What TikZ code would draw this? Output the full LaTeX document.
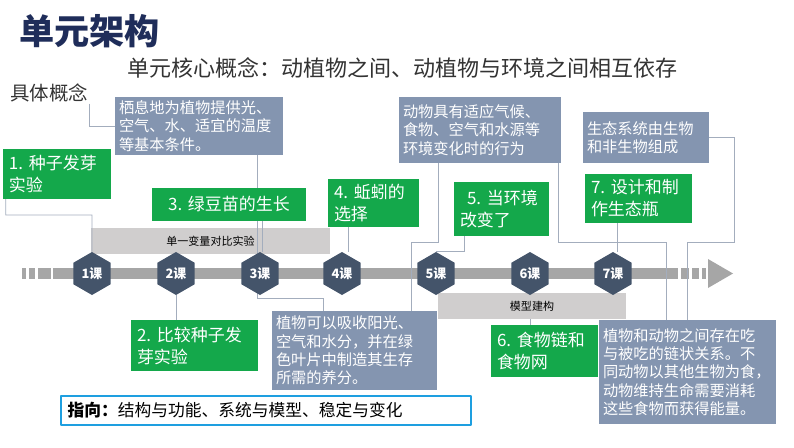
\documentclass[tikz,border=0pt]{standalone}
\usepackage{fontspec}
\setmainfont{Noto Sans CJK SC}
\usetikzlibrary{shapes.geometric}
\definecolor{navy}{HTML}{1F2D5A}
\definecolor{slate}{HTML}{8495B0}
\definecolor{leaf}{HTML}{14A84B}
\definecolor{hexblue}{HTML}{44546A}
\definecolor{tline}{HTML}{A6A6A6}
\definecolor{barfill}{HTML}{D0CECE}
\definecolor{linkgray}{HTML}{A3ADBD}
\definecolor{frame}{HTML}{1E9FE0}
\definecolor{ink}{HTML}{333333}
\pgfdeclarelayer{bg}
\pgfdeclarelayer{lk}
\pgfsetlayers{bg,lk,main}
\tikzset{
  link/.style={draw=linkgray, line width=0.7pt},
  sbox/.style 2 args={fill=slate, text=white, align=left, inner xsep=0.12cm, inner ysep=0pt,
    text width=(#1-8)*0.03cm, minimum height=#2*0.03cm,
    font=\fontsize{13}{15.7}\selectfont},
  gbox/.style 2 args={fill=leaf, text=white, align=left, inner xsep=0.18cm, inner ysep=0pt,
    text width=(#1-12)*0.03cm, minimum height=#2*0.03cm,
    font=\fontsize{14.5}{18.8}\selectfont},
  hexa/.style={regular polygon, regular polygon sides=6, shape border rotate=30,
    fill=hexblue, text=white, inner sep=0pt, minimum size=1.29cm,
    font=\bfseries\fontsize{11}{13}\selectfont},
  graybar/.style 2 args={fill=barfill, inner sep=0pt, minimum width=#1*0.03cm,
    minimum height=#2*0.03cm, font=\fontsize{9.4}{11}\selectfont}
}
\begin{document}
\begin{tikzpicture}[x=0.03cm, y=-0.03cm, line join=round, line cap=round]
\useasboundingbox (0,0) rectangle (794,447);
% headings
\node[anchor=west, inner sep=0pt, text=navy, font=\bfseries\fontsize{30}{36}\selectfont] (title) at (19,31) {单元架构};
\node[anchor=west, inner sep=0pt, text=ink, font=\fontsize{18.8}{22}\selectfont] (core) at (127,68) {单元核心概念：动植物之间、动植物与环境之间相互依存};
\node[anchor=west, inner sep=1pt, text=ink, font=\fontsize{16.6}{20}\selectfont] (spec) at (9,93) {具体概念};
% timeline and grey bands
\begin{pgfonlayer}{bg}
\fill[tline] (53,268) rectangle (678,279);
\foreach \a/\b in {22/26,29/35,38/51,681/689,692/699,702/706}
  \fill[tline] (\a,268) rectangle (\b,279);
\fill[tline] (708,259) -- (733,273.5) -- (708,288) -- cycle;
\node[graybar={239}{26}] (cmp) at (210.5,241) {单一变量对比实验};
\node[graybar={188}{26}] (model) at (532,306) {模型建构};
\end{pgfonlayer}
% lessons
\foreach \n/\x in {1/92,2/176,3/260,4/342,5/436,6/530,7/613}
  \node[hexa] (h\n) at (\x,273.5) {\n{}课};
% concepts
\node[sbox={168}{58}] (ba) at (199,126) {栖息地为植物提供光、\\空气、水、适宜的温度\\等基本条件。};
\node[sbox={162}{66}] (bb) at (480,130) {动物具有适应气候、\\食物、空气和水源等\\环境变化时的行为};
\node[sbox={126}{51}] (bc) at (646,137.5) {生态系统由生物\\和非生物组成};
\node[sbox={165}{79}] (bd) at (354.5,350.5) {植物可以吸收阳光、\\空气和水分，并在绿\\色叶片中制造其生存\\所需的养分。};
\node[sbox={177}{104}] (be) at (687.5,372) {植物和动物之间存在吃\\与被吃的链状关系。不\\同动物以其他生物为食，\\动物维持生命需要消耗\\这些食物而获得能量。};
% lesson titles
\node[gbox={108}{50}] (g1) at (57,174) {1.~种子发芽\\实验};
\node[gbox={127}{51}] (g2) at (194.5,345.5) {2.~比较种子发\\芽实验};
\node[gbox={154}{33}, align=center] (g3) at (229,204.5) {3.~绿豆苗的生长};
\node[gbox={91}{48}] (g4) at (373.5,203) {4.~蚯蚓的\\选择};
\node[gbox={95}{54}] (g5) at (501.5,209) {\hspace*{6pt}5.~当环境\\改变了};
\node[gbox={107}{49}] (g7) at (638.5,198.5) {7.~设计和制\\作生态瓶};
\node[gbox={107}{52}] (g6) at (544.5,351) {6.~食物链和\\食物网};
% orientation
\node[draw=frame, line width=1.3pt, fill=white, align=left, inner xsep=0.2cm, inner ysep=0pt,
  text width=11.9cm, minimum height=0.87cm, font=\fontsize{14.3}{17}\selectfont] (goal) at (266,410.5)
  {\textbf{指向：}结构与功能、系统与模型、稳定与变化};
% connectors
\begin{pgfonlayer}{lk}
\draw[link] (spec.south east) |- (ba.west);
\draw[link] (g1.south west) ++(3,0) |- (92,215) -- (h1.north);
\draw[link] (257,0 |- ba.south) |- (323,298) -- (323,0 |- bd.north);
\draw[link] (262,0 |- g3.south) -- (262,0 |- h3.north);
\draw[link] (h2.south) -- (h2.south |- g2.north);
\draw[link] (348,0 |- g4.south) -- (348,0 |- h4.north);
\draw[link] (464,0 |- g5.south) |- (h5.north);
\draw[link] (438,0 |- bb.south) |- (411,242) -- (411,0 |- bd.north);
\draw[link] (558,0 |- bb.south) |- (666,242) -- (666,0 |- be.north);
\draw[link] (bc.east) -| (734,242) -| (687,0 |- be.north);
\draw[link] (617,0 |- g7.south) -- (617,0 |- h7.north);
\draw[link] (h6.south |- model.south) -- (h6.south |- g6.north);
\end{pgfonlayer}
\end{tikzpicture}
\end{document}
